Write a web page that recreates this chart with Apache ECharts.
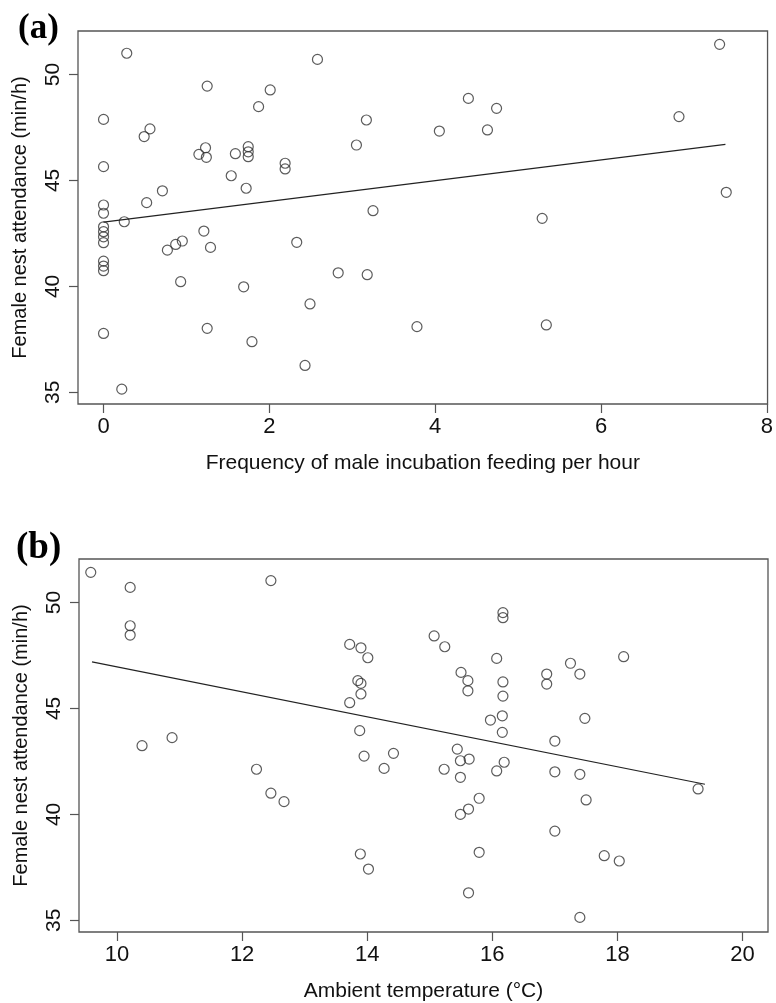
<!DOCTYPE html>
<html><head><meta charset="utf-8">
<script src="https://cdn.jsdelivr.net/npm/echarts@6/dist/echarts.min.js"></script>
<style>html,body{margin:0;padding:0;background:#fff}#c{width:776px;height:1003px}</style>
</head><body><div id="c"></div>
<script>
// Panel (a): frequency of male incubation feeding per hour vs female nest attendance
const feedFreq = [0.28,1.25,0,0.56,0.49,0,1.15,1.23,1.24,1.59,1.745,1.745,1.745,1.87,1.54,1.72,0.71,0.52,2.58,2.01,3.17,3.05,2.19,2.19,4.40,4.74,4.05,4.63,7.43,6.94,7.51,0,0,0,0,0,0,0,0,0,0,0.25,0.77,0.87,0.95,1.21,1.29,0.93,1.69,1.25,1.79,3.25,2.33,2.83,3.18,2.49,3.78,2.43,5.29,5.34,0.22];
const attendanceA = [51.0,49.45,47.88,47.43,47.07,45.65,46.23,46.54,46.09,46.26,46.59,46.35,46.12,48.48,45.22,44.63,44.51,43.95,50.71,49.27,47.85,46.67,45.81,45.54,48.87,48.40,47.33,47.38,51.42,48.01,44.44,43.84,43.45,42.81,42.58,42.34,42.06,41.19,40.96,40.74,37.78,43.05,41.71,41.98,42.14,42.61,41.84,40.22,39.98,38.02,37.39,43.57,42.08,40.64,40.55,39.17,38.10,36.27,43.21,38.18,35.15];
const fitAx = [0, 7.50];
const fitAy = [43.03, 46.70];

// Panel (b): ambient temperature vs female nest attendance
const temperature = [9.58,10.21,10.21,10.21,12.46,13.72,13.90,14.01,13.85,13.90,13.90,13.72,15.07,15.24,16.17,16.17,16.07,15.50,15.61,15.61,16.17,16.17,18.10,17.25,17.40,16.87,16.87,10.40,10.88,13.88,13.95,14.27,14.42,12.23,12.46,12.67,13.89,14.02,16.16,15.97,17.48,16.16,17.00,15.44,15.49,15.63,15.23,16.19,16.07,15.49,17.00,17.40,19.29,15.79,15.62,15.49,17.50,17.00,15.79,17.79,18.03,15.62,17.40];
const attendanceB = [51.42,50.71,48.90,48.46,51.03,48.02,47.86,47.39,46.31,46.18,45.68,45.27,48.42,47.91,49.52,49.28,47.36,46.70,46.31,45.83,46.25,45.58,47.44,47.13,46.62,46.62,46.15,43.24,43.62,43.95,42.75,42.17,42.88,42.13,41.00,40.60,38.13,37.42,44.65,44.45,44.53,43.87,43.46,43.08,42.53,42.61,42.13,42.46,42.05,41.75,42.01,41.89,41.20,40.76,40.25,40.00,40.68,39.21,38.21,38.05,37.80,36.30,35.14];
const fitBx = [9.60, 19.40];
const fitBy = [47.20, 41.42];

const xTicksA = [0, 2, 4, 6, 8];
const xTicksB = [10, 12, 14, 16, 18, 20];
const yTicks = [35, 40, 45, 50];

const labelsA = ['(a)'];
const labelsB = ['(b)'];
const xTitleA = 'Frequency of male incubation feeding per hour';
const xTitleB = 'Ambient temperature (°C)';
const yTitle = 'Female nest attendance (min/h)';

const pair = (xs, ys) => xs.map((x, i) => [x, ys[i]]);
const FONT = 'Liberation Sans, Arial, sans-serif';
const AX = '#555';
const TXT = '#111';

function xAxis(gi, min, max, ticks, name) {
  return {
    type: 'value', gridIndex: gi, min: min, max: max,
    axisLine: { show: false, onZero: false },
    splitLine: { show: false },
    axisTick: { show: true, length: 9, customValues: ticks, lineStyle: { color: AX, width: 1.2 } },
    axisLabel: { customValues: ticks, margin: 12, fontSize: 22, color: TXT, fontFamily: FONT, showMinLabel: true, showMaxLabel: true },
    name: name, nameLocation: 'middle', nameGap: 49,
    nameTextStyle: { fontSize: 21, color: TXT, fontFamily: FONT }
  };
}
function yAxis(gi) {
  return {
    type: 'value', gridIndex: gi, min: 34.45, max: 52.05,
    axisLine: { show: false, onZero: false },
    splitLine: { show: false },
    axisTick: { show: true, length: 9, customValues: yTicks, lineStyle: { color: AX, width: 1.2 } },
    axisLabel: { customValues: yTicks, rotate: 90, margin: 14, fontSize: 21, color: TXT, fontFamily: FONT },
    name: yTitle, nameLocation: 'middle', nameGap: 48, nameRotate: 90,
    nameTextStyle: { fontSize: 20, color: TXT, fontFamily: FONT }
  };
}
const pointStyle = { color: 'rgba(0,0,0,0)', borderColor: '#333', borderWidth: 1.2 };

const chart = echarts.init(document.getElementById('c'), null, { renderer: 'canvas' });
chart.setOption({
  animation: false,
  backgroundColor: '#fff',
  title: [
    { text: labelsA[0], left: 18, top: 11, padding: 0, textStyle: { fontFamily: 'Liberation Serif, Times New Roman, serif', fontWeight: 'bold', fontSize: 35, color: '#000' } },
    { text: labelsB[0], left: 16, top: 530, padding: 0, textStyle: { fontFamily: 'Liberation Serif, Times New Roman, serif', fontWeight: 'bold', fontSize: 37, color: '#000' } }
  ],
  grid: [
    { left: 78, top: 31, width: 690, height: 373, show: true, borderColor: AX, borderWidth: 1.3, backgroundColor: 'transparent' },
    { left: 79, top: 559, width: 689, height: 373, show: true, borderColor: AX, borderWidth: 1.3, backgroundColor: 'transparent' }
  ],
  xAxis: [
    xAxis(0, -0.308, 8.008, xTicksA, xTitleA),
    xAxis(1, 9.392, 20.408, xTicksB, xTitleB)
  ],
  yAxis: [yAxis(0), yAxis(1)],
  series: [
    { type: 'scatter', xAxisIndex: 0, yAxisIndex: 0, symbol: 'circle', symbolSize: 10, itemStyle: pointStyle, data: pair(feedFreq, attendanceA) },
    { type: 'line', xAxisIndex: 0, yAxisIndex: 0, showSymbol: false, symbol: 'none', lineStyle: { color: '#222', width: 1.2 }, data: pair(fitAx, fitAy) },
    { type: 'scatter', xAxisIndex: 1, yAxisIndex: 1, symbol: 'circle', symbolSize: 10, itemStyle: pointStyle, data: pair(temperature, attendanceB) },
    { type: 'line', xAxisIndex: 1, yAxisIndex: 1, showSymbol: false, symbol: 'none', lineStyle: { color: '#222', width: 1.2 }, data: pair(fitBx, fitBy) }
  ]
});
</script>
</body></html>
